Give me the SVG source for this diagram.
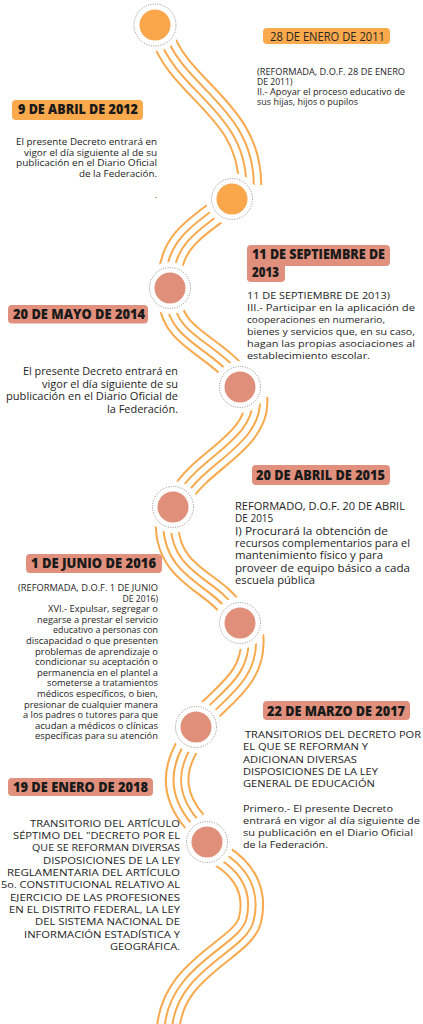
<svg xmlns="http://www.w3.org/2000/svg" xmlns:xlink="http://www.w3.org/1999/xlink" width="423" height="1024" viewBox="0 0 423 1024">
<style>
.l1{fill:none;stroke:#F9A94D;stroke-width:24.5}
.l2{fill:none;stroke:#ffffff;stroke-width:20.5}
.l3{fill:none;stroke:#F9A94D;stroke-width:9.5}
.l4{fill:none;stroke:#ffffff;stroke-width:5.5}
.mask{fill:#ffffff}
.ring{fill:none;stroke:#8c8c8c;stroke-width:1;stroke-dasharray:1 1.4}
.dot-o{fill:#FAA74B}
.dot-s{fill:#E0907A}
.box-o{fill:#FAA94C}
.box-s{fill:#E0907C}
.h{font-family:"Open Sans","Liberation Sans",sans-serif;font-weight:800;font-size:14.5px;fill:#1a1a1a}
.hm{font-family:"Open Sans","Liberation Sans",sans-serif;font-weight:500;font-size:12.5px;fill:#262626}
.t{font-family:"Open Sans","Liberation Sans",sans-serif;font-weight:500;fill:#242424}
.s86{font-size:8.6px}
.s84{font-size:8.4px}
.s98{font-size:9.8px}
.s10{font-size:10px}
.r{text-anchor:end}
</style>
<defs>
<path id="s1" d="M162,35 C180,90 250,110 250,185"/>
<path id="s2" d="M226,205 C200,225 172,240 170,275"/>
<path id="s3" d="M170,300 C172,335 210,345 234,372"/>
<path id="s4" d="M256,398 C260,440 203,460 183,493"/>
<path id="s5" d="M167,525 C168,575 214,582 232,610"/>
<path id="s6" d="M252,635 C256,675 226,693 205,715"/>
<path id="s7" d="M188,745 C170,775 176,800 195,822"/>
<path id="s8" d="M220,855 C248,872 256,895 250,920 C243,950 168,968 168,1035"/>
</defs>
<g id="connectors">
<g id="seg1"><use xlink:href="#s1" class="l1"/><use xlink:href="#s1" class="l2"/><use xlink:href="#s1" class="l3"/><use xlink:href="#s1" class="l4"/></g>
<g id="seg2"><use xlink:href="#s2" class="l1"/><use xlink:href="#s2" class="l2"/><use xlink:href="#s2" class="l3"/><use xlink:href="#s2" class="l4"/></g>
<g id="seg3"><use xlink:href="#s3" class="l1"/><use xlink:href="#s3" class="l2"/><use xlink:href="#s3" class="l3"/><use xlink:href="#s3" class="l4"/></g>
<g id="seg4"><use xlink:href="#s4" class="l1"/><use xlink:href="#s4" class="l2"/><use xlink:href="#s4" class="l3"/><use xlink:href="#s4" class="l4"/></g>
<g id="seg5"><use xlink:href="#s5" class="l1"/><use xlink:href="#s5" class="l2"/><use xlink:href="#s5" class="l3"/><use xlink:href="#s5" class="l4"/></g>
<g id="seg6"><use xlink:href="#s6" class="l1"/><use xlink:href="#s6" class="l2"/><use xlink:href="#s6" class="l3"/><use xlink:href="#s6" class="l4"/></g>
<g id="seg7"><use xlink:href="#s7" class="l1"/><use xlink:href="#s7" class="l2"/><use xlink:href="#s7" class="l3"/><use xlink:href="#s7" class="l4"/></g>
<g id="seg8"><use xlink:href="#s8" class="l1"/><use xlink:href="#s8" class="l2"/><use xlink:href="#s8" class="l3"/><use xlink:href="#s8" class="l4"/></g>
</g>
<g id="c1"><circle class="mask" cx="155" cy="25" r="26"/><circle class="ring" cx="155" cy="25" r="21"/><circle class="dot-o" cx="155" cy="25" r="15.5"/></g>
<g id="c2"><circle class="mask" cx="232" cy="199" r="26"/><circle class="ring" cx="232" cy="199" r="20.5"/><circle class="dot-o" cx="232" cy="199" r="15.5"/></g>
<g id="c3"><circle class="mask" cx="170" cy="288" r="26"/><circle class="ring" cx="170" cy="288" r="20.5"/><circle class="dot-s" cx="170" cy="288" r="15.5"/></g>
<g id="c4"><circle class="mask" cx="240" cy="387" r="26"/><circle class="ring" cx="240" cy="387" r="20.5"/><circle class="dot-s" cx="240" cy="387" r="15.5"/></g>
<g id="c5"><circle class="mask" cx="173" cy="507" r="26"/><circle class="ring" cx="173" cy="507" r="20.5"/><circle class="dot-s" cx="173" cy="507" r="15.5"/></g>
<g id="c6"><circle class="mask" cx="240" cy="623" r="26"/><circle class="ring" cx="240" cy="623" r="20.5"/><circle class="dot-s" cx="240" cy="623" r="15.5"/></g>
<g id="c7"><circle class="mask" cx="196" cy="727" r="26"/><circle class="ring" cx="196" cy="727" r="20.5"/><circle class="dot-s" cx="196" cy="727" r="15.5"/></g>
<g id="c8"><circle class="mask" cx="207" cy="842" r="26"/><circle class="ring" cx="207" cy="842" r="20.5"/><circle class="dot-s" cx="207" cy="842" r="15.5"/></g>

<g id="e2011">
<rect class="box-o" x="263" y="28" width="127" height="16" rx="4"/>
<text class="hm" x="270" y="40.7" textLength="115" lengthAdjust="spacingAndGlyphs">28 DE ENERO DE 2011</text>
<text class="t s86" x="257" y="75" textLength="148" lengthAdjust="spacingAndGlyphs">(REFORMADA, D.O.F. 28 DE ENERO</text>
<text class="t s86" x="257" y="85">DE 2011)</text>
<text class="t s86" x="257" y="95" textLength="148" lengthAdjust="spacingAndGlyphs">II.- Apoyar el proceso educativo de</text>
<text class="t s86" x="257" y="105" textLength="101" lengthAdjust="spacingAndGlyphs">sus hijas, hijos o pupilos</text>
</g>

<g id="e2012">
<rect class="box-o" x="12" y="100" width="131" height="20" rx="4"/>
<text class="h" x="18" y="114" textLength="120" lengthAdjust="spacingAndGlyphs">9 DE ABRIL DE 2012</text>
<text class="t s84 r" x="157" y="145" textLength="141" lengthAdjust="spacingAndGlyphs">El presente Decreto entrará en</text>
<text class="t s84 r" x="157" y="155.5" textLength="133" lengthAdjust="spacingAndGlyphs">vigor el día siguiente al de su</text>
<text class="t s84 r" x="157" y="166" textLength="141" lengthAdjust="spacingAndGlyphs">publicación en el Diario Oficial</text>
<text class="t s84 r" x="157" y="176.5" textLength="78" lengthAdjust="spacingAndGlyphs">de la Federación.</text>
<text class="t s84" x="155" y="198">.</text>
</g>

<g id="e2013">
<rect class="box-s" x="247" y="245" width="143" height="21" rx="4"/>
<rect class="box-s" x="247" y="260" width="38" height="22" rx="4"/>
<text class="h" x="252" y="259" textLength="133" lengthAdjust="spacingAndGlyphs">11 DE SEPTIEMBRE DE</text>
<text class="h" x="252" y="276.7" textLength="27" lengthAdjust="spacingAndGlyphs">2013</text>
<text class="t s98" x="247" y="298.5" textLength="143" lengthAdjust="spacingAndGlyphs">11 DE SEPTIEMBRE DE 2013)</text>
<text class="t s98" x="247" y="310.5" textLength="168" lengthAdjust="spacingAndGlyphs">III.- Participar en la aplicación de</text>
<text class="t s98" x="247" y="322.5" textLength="138" lengthAdjust="spacingAndGlyphs">cooperaciones en numerario,</text>
<text class="t s98" x="247" y="334.5" textLength="168" lengthAdjust="spacingAndGlyphs">bienes y servicios que, en su caso,</text>
<text class="t s98" x="247" y="346.5" textLength="168" lengthAdjust="spacingAndGlyphs">hagan las propias asociaciones al</text>
<text class="t s98" x="247" y="358.5" textLength="123" lengthAdjust="spacingAndGlyphs">establecimiento escolar.</text>
</g>

<g id="e2014">
<rect class="box-s" x="8" y="305" width="140" height="18.5" rx="4"/>
<text class="h" x="13" y="319.3" textLength="132" lengthAdjust="spacingAndGlyphs">20 DE MAYO DE 2014</text>
<text class="t s10 r" x="178" y="375" textLength="155" lengthAdjust="spacingAndGlyphs">El presente Decreto entrará en</text>
<text class="t s10 r" x="178" y="387.5" textLength="136" lengthAdjust="spacingAndGlyphs">vigor el día siguiente de su</text>
<text class="t s10 r" x="178" y="400" textLength="172" lengthAdjust="spacingAndGlyphs">publicación en el Diario Oficial de</text>
<text class="t s10 r" x="178" y="412.5" textLength="71" lengthAdjust="spacingAndGlyphs">la Federación.</text>
</g>

<g id="e2015">
<rect class="box-s" x="252" y="465" width="138" height="20" rx="4"/>
<text class="h" x="256" y="480" textLength="129" lengthAdjust="spacingAndGlyphs">20 DE ABRIL DE 2015</text>
<text class="t s10" x="235" y="510" textLength="170" lengthAdjust="spacingAndGlyphs">REFORMADO, D.O.F. 20 DE ABRIL</text>
<text class="t s10" x="235" y="522.3">DE 2015</text>
<text class="t s10" x="235" y="534.6" textLength="153" lengthAdjust="spacingAndGlyphs">I) Procurará la obtención de</text>
<text class="t s10" x="235" y="546.9" textLength="175" lengthAdjust="spacingAndGlyphs">recursos complementarios para el</text>
<text class="t s10" x="235" y="559.2" textLength="148" lengthAdjust="spacingAndGlyphs">mantenimiento físico y para</text>
<text class="t s10" x="235" y="571.5" textLength="175" lengthAdjust="spacingAndGlyphs">proveer de equipo básico a cada</text>
<text class="t s10" x="235" y="583.8" textLength="80" lengthAdjust="spacingAndGlyphs">escuela pública</text>
</g>

<g id="e2016">
<rect class="box-s" x="26" y="554" width="136" height="19" rx="4"/>
<text class="h" x="31" y="568.3" textLength="125" lengthAdjust="spacingAndGlyphs">1 DE JUNIO DE 2016</text>
<text class="t s86 r" x="158" y="591" textLength="140" lengthAdjust="spacingAndGlyphs">(REFORMADA, D.O.F. 1 DE JUNIO</text>
<text class="t s86 r" x="158" y="601.6">DE 2016)</text>
<text class="t s86 r" x="158" y="612.2" textLength="110" lengthAdjust="spacingAndGlyphs">XVI.- Expulsar, segregar o</text>
<text class="t s86 r" x="158" y="622.8" textLength="121" lengthAdjust="spacingAndGlyphs">negarse a prestar el servicio</text>
<text class="t s86 r" x="158" y="633.4" textLength="105" lengthAdjust="spacingAndGlyphs">educativo a personas con</text>
<text class="t s86 r" x="158" y="644" textLength="132" lengthAdjust="spacingAndGlyphs">discapacidad o que presenten</text>
<text class="t s86 r" x="158" y="654.6" textLength="123" lengthAdjust="spacingAndGlyphs">problemas de aprendizaje o</text>
<text class="t s86 r" x="158" y="665.2" textLength="123" lengthAdjust="spacingAndGlyphs">condicionar su aceptación o</text>
<text class="t s86 r" x="158" y="675.8" textLength="121" lengthAdjust="spacingAndGlyphs">permanencia en el plantel a</text>
<text class="t s86 r" x="158" y="686.4" textLength="111" lengthAdjust="spacingAndGlyphs">someterse a tratamientos</text>
<text class="t s86 r" x="158" y="697" textLength="121" lengthAdjust="spacingAndGlyphs">médicos específicos, o bien,</text>
<text class="t s86 r" x="158" y="707.6" textLength="134" lengthAdjust="spacingAndGlyphs">presionar de cualquier manera</text>
<text class="t s86 r" x="158" y="718.2" textLength="135" lengthAdjust="spacingAndGlyphs">a los padres o tutores para que</text>
<text class="t s86 r" x="158" y="728.8" textLength="123" lengthAdjust="spacingAndGlyphs">acudan a médicos o clínicas</text>
<text class="t s86 r" x="158" y="739.4" textLength="123" lengthAdjust="spacingAndGlyphs">específicas para su atención</text>
</g>

<g id="e2017">
<rect class="box-s" x="263" y="701" width="147" height="19" rx="4"/>
<text class="h" x="267" y="715.7" textLength="138" lengthAdjust="spacingAndGlyphs">22 DE MARZO DE 2017</text>
<text class="t s98" x="245" y="738" textLength="176" lengthAdjust="spacingAndGlyphs">TRANSITORIOS DEL DECRETO POR</text>
<text class="t s98" x="243" y="750.3" textLength="125" lengthAdjust="spacingAndGlyphs">EL QUE SE REFORMAN Y</text>
<text class="t s98" x="243" y="762.6" textLength="114" lengthAdjust="spacingAndGlyphs">ADICIONAN DIVERSAS</text>
<text class="t s98" x="243" y="774.9" textLength="135" lengthAdjust="spacingAndGlyphs">DISPOSICIONES DE LA LEY</text>
<text class="t s98" x="243" y="787.2" textLength="132" lengthAdjust="spacingAndGlyphs">GENERAL DE EDUCACIÓN</text>
<text class="t s98" x="243" y="811.7" textLength="150" lengthAdjust="spacingAndGlyphs">Primero.- El presente Decreto</text>
<text class="t s98" x="243" y="824" textLength="177" lengthAdjust="spacingAndGlyphs">entrará en vigor al día siguiente de</text>
<text class="t s98" x="243" y="836.2" textLength="170" lengthAdjust="spacingAndGlyphs">su publicación en el Diario Oficial</text>
<text class="t s98" x="243" y="848.4" textLength="85" lengthAdjust="spacingAndGlyphs">de la Federación.</text>
</g>

<g id="e2018">
<rect class="box-s" x="8" y="778" width="145" height="18" rx="4"/>
<text class="h" x="13" y="791.7" textLength="135" lengthAdjust="spacingAndGlyphs">19 DE ENERO DE 2018</text>
<text class="t s98 r" x="180" y="826.7" textLength="150" lengthAdjust="spacingAndGlyphs">TRANSITORIO DEL ARTÍCULO</text>
<text class="t s98 r" x="180" y="839" textLength="167" lengthAdjust="spacingAndGlyphs">SÉPTIMO DEL "DECRETO POR EL</text>
<text class="t s98 r" x="180" y="851.4" textLength="148" lengthAdjust="spacingAndGlyphs">QUE SE REFORMAN DIVERSAS</text>
<text class="t s98 r" x="180" y="863.7" textLength="137" lengthAdjust="spacingAndGlyphs">DISPOSICIONES DE LA LEY</text>
<text class="t s98 r" x="180" y="876" textLength="173" lengthAdjust="spacingAndGlyphs">REGLAMENTARIA DEL ARTÍCULO</text>
<text class="t s98 r" x="180" y="888.4" textLength="179" lengthAdjust="spacingAndGlyphs">5o. CONSTITUCIONAL RELATIVO AL</text>
<text class="t s98 r" x="180" y="900.7" textLength="170" lengthAdjust="spacingAndGlyphs">EJERCICIO DE LAS PROFESIONES</text>
<text class="t s98 r" x="180" y="913" textLength="171" lengthAdjust="spacingAndGlyphs">EN EL DISTRITO FEDERAL, LA LEY</text>
<text class="t s98 r" x="180" y="925.4" textLength="145" lengthAdjust="spacingAndGlyphs">DEL SISTEMA NACIONAL DE</text>
<text class="t s98 r" x="180" y="937.7" textLength="156" lengthAdjust="spacingAndGlyphs">INFORMACIÓN ESTADÍSTICA Y</text>
<text class="t s98 r" x="180" y="950" textLength="70" lengthAdjust="spacingAndGlyphs">GEOGRÁFICA.</text>
</g>
</svg>
